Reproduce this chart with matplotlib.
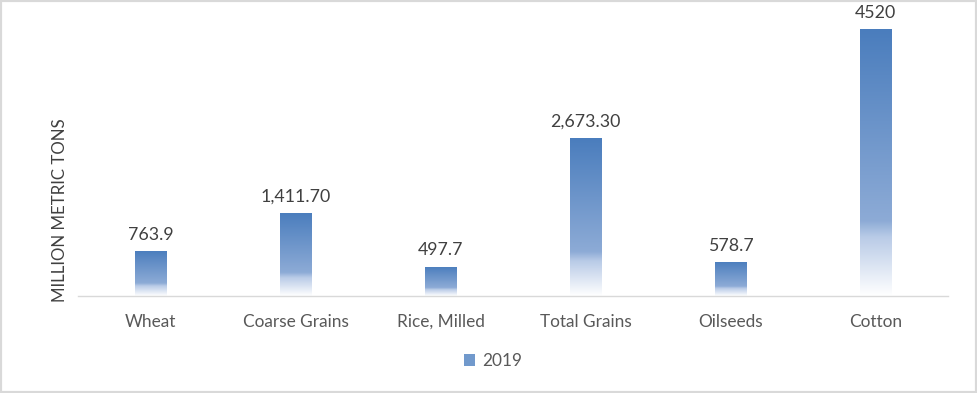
import matplotlib.pyplot as plt
import numpy as np
from matplotlib.colors import LinearSegmentedColormap
from matplotlib.patches import Patch, Rectangle

categories = ["Wheat", "Coarse Grains", "Rice, Milled", "Total Grains", "Oilseeds", "Cotton"]
values_2019 = [763.9, 1411.7, 497.7, 2673.3, 578.7, 4520]
value_labels = ["763.9", "1,411.70", "497.7", "2,673.30", "578.7", "4520"]
series_name = "2019"

TEXT = "#595959"
plt.rcParams['font.family'] = ['Lato', 'DejaVu Sans']

# top of bar -> bottom of bar
grad = LinearSegmentedColormap.from_list(
    "bar_grad",
    [(0.0, "#4a7dbd"), (0.72, "#8dabd6"), (0.78, "#b9cbe7"), (1.0, "#ffffff")])

fig = plt.figure(figsize=(9.77, 3.93), dpi=100)
fig.patch.set_facecolor("white")
ax = fig.add_axes([78 / 977, 97 / 393, 870 / 977, 295 / 393])

x = np.arange(len(categories))
bars = ax.bar(x, values_2019, width=0.22, facecolor="none", edgecolor="none")

g = np.linspace(0, 1, 256).reshape(-1, 1)
for b in bars:
    x0, y0 = b.get_x(), b.get_y()
    im = ax.imshow(g, cmap=grad, aspect="auto", origin="upper",
                   extent=(x0, x0 + b.get_width(), y0, y0 + b.get_height()),
                   interpolation="bilinear", zorder=2)
    im.set_clip_path(b)

ax.set_xlim(-0.5, len(categories) - 0.5)
ax.set_ylim(0, 5000)
ax.set_aspect("auto")

for xi, v, lab in zip(x, values_2019, value_labels):
    ax.annotate(lab, (xi, v), xytext=(0, 6), textcoords="offset points",
                ha="center", va="bottom", fontsize=12.8, color="#404040")

ax.set_xticks(x)
ax.set_xticklabels(categories, fontsize=12.4, color=TEXT)
ax.tick_params(axis="x", length=0, pad=13)
ax.set_yticks([])
for s in ["top", "right", "left"]:
    ax.spines[s].set_visible(False)
ax.spines["bottom"].set_color("#d9d9d9")
ax.spines["bottom"].set_linewidth(1)

fig.text(60 / 977, 1 - 210 / 393, "MILLION METRIC TONS", rotation=90,
         ha="center", va="center", fontsize=12.2, color="#404040")

ax.legend([Patch(facecolor="#7199cc")], [series_name], loc="center",
          bbox_to_anchor=(493 / 977, 1 - 361 / 393), bbox_transform=fig.transFigure,
          frameon=False, fontsize=12.4, labelcolor=TEXT,
          handlelength=0.65, handleheight=0.65, handletextpad=0.4)

fig.add_artist(Rectangle((0, 0), 1, 1, transform=fig.transFigure, fill=False,
                         edgecolor="#d9d9d9", linewidth=3))

plt.savefig("out.png", dpi=100, facecolor=fig.get_facecolor())
